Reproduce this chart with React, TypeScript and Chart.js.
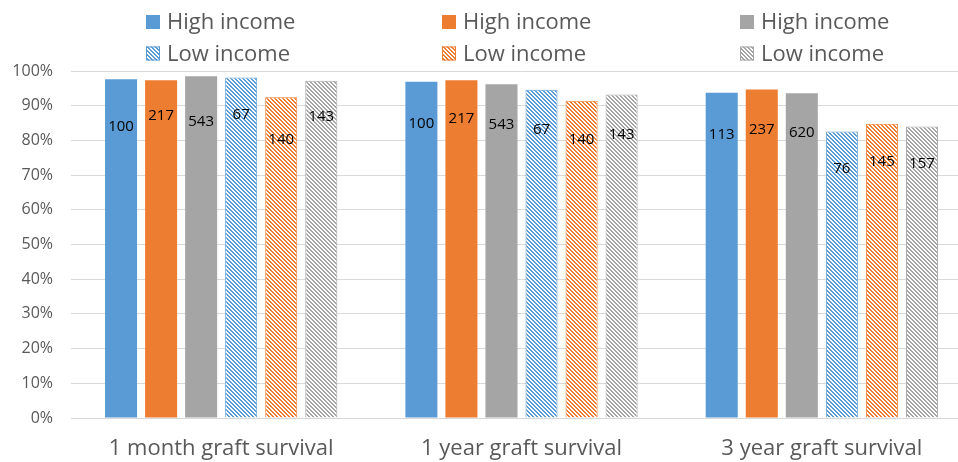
import React, { useEffect, useRef } from "react";
import { Chart, registerables } from "chart.js";

Chart.register(...registerables);

const categories = ["1 month graft survival", "1 year graft survival", "3 year graft survival"];
const legendLabels = ["High income", "High income", "High income", "Low income", "Low income", "Low income"];

const highBlue = [97.6, 96.9, 93.7];
const highOrange = [97.3, 97.3, 94.7];
const highGray = [98.5, 96.2, 93.6];
const lowBlue = [98.1, 94.6, 82.6];
const lowOrange = [92.4, 91.4, 84.8];
const lowGray = [97.2, 93.2, 84.0];

const highBlueN = [100, 100, 113];
const highOrangeN = [217, 217, 237];
const highGrayN = [543, 543, 620];
const lowBlueN = [67, 67, 76];
const lowOrangeN = [140, 140, 145];
const lowGrayN = [143, 143, 157];

// vertical position (in % units) where each count label sits
const highBlueLabelY = [84.0, 84.9, 81.6];
const highOrangeLabelY = [87.0, 86.3, 83.0];
const highGrayLabelY = [85.4, 84.6, 82.2];
const lowBlueLabelY = [87.3, 83.0, 71.8];
const lowOrangeLabelY = [80.1, 80.3, 73.9];
const lowGrayLabelY = [86.8, 81.6, 73.2];

const yTicks = [0, 10, 20, 30, 40, 50, 60, 70, 80, 90, 100];

const BLUE = "#5B9BD5";
const ORANGE = "#ED7D31";
const GRAY = "#A5A5A5";
const FONT = "'Open Sans', 'Noto Sans', sans-serif";

function hexToRgb(hex: string) {
  const v = parseInt(hex.slice(1), 16);
  return [(v >> 16) & 255, (v >> 8) & 255, v & 255];
}

function makePattern(color: string): CanvasPattern | string {
  const c = document.createElement("canvas");
  c.width = 8;
  c.height = 8;
  const ctx = c.getContext("2d");
  if (!ctx) return color;
  const img = ctx.createImageData(8, 8);
  const [r, g, b] = hexToRgb(color);
  for (let y = 0; y < 8; y++) {
    for (let x = 0; x < 8; x++) {
      const on = (((x - y) % 4) + 4) % 4 < 2;
      const i = (y * 8 + x) * 4;
      img.data[i] = on ? r : 255;
      img.data[i + 1] = on ? g : 255;
      img.data[i + 2] = on ? b : 255;
      img.data[i + 3] = 255;
    }
  }
  ctx.putImageData(img, 0, 0);
  const p = ctx.createPattern(c, "repeat");
  return p || color;
}

export default function App() {
  const ref = useRef<HTMLCanvasElement | null>(null);

  useEffect(() => {
    if (!ref.current) return;
    const pBlue = makePattern(BLUE);
    const pOrange = makePattern(ORANGE);
    const pGray = makePattern(GRAY);

    const series = [
      { data: highBlue, n: highBlueN, ly: highBlueLabelY, bg: BLUE, border: BLUE, bw: 0 },
      { data: highOrange, n: highOrangeN, ly: highOrangeLabelY, bg: ORANGE, border: ORANGE, bw: 0 },
      { data: highGray, n: highGrayN, ly: highGrayLabelY, bg: GRAY, border: GRAY, bw: 0 },
      { data: lowBlue, n: lowBlueN, ly: lowBlueLabelY, bg: pBlue, border: BLUE, bw: 1 },
      { data: lowOrange, n: lowOrangeN, ly: lowOrangeLabelY, bg: pOrange, border: ORANGE, bw: 1 },
      { data: lowGray, n: lowGrayN, ly: lowGrayLabelY, bg: pGray, border: GRAY, bw: 1 },
    ];

    const countLabels = {
      id: "countLabels",
      afterDatasetsDraw(chart: any) {
        const ctx = chart.ctx;
        const ys = chart.scales.y;
        ctx.save();
        ctx.font = `15px ${FONT}`;
        ctx.fillStyle = "#000000";
        ctx.textAlign = "center";
        ctx.textBaseline = "middle";
        series.forEach((s, di) => {
          const meta = chart.getDatasetMeta(di);
          meta.data.forEach((el: any, i: number) => {
            ctx.fillText(String(s.n[i]), el.x, ys.getPixelForValue(s.ly[i]));
          });
        });
        ctx.restore();
      },
    };

    const gridLegend = {
      id: "gridLegend",
      afterDraw(chart: any) {
        const ctx = chart.ctx;
        const colX = [146, 442, 740];
        const rowY = [22, 53.5];
        ctx.save();
        ctx.font = `22px ${FONT}`;
        ctx.textAlign = "left";
        ctx.textBaseline = "middle";
        series.forEach((s, i) => {
          const col = i % 3;
          const row = Math.floor(i / 3);
          const x = colX[col];
          const y = rowY[row];
          ctx.fillStyle = s.bg as any;
          ctx.fillRect(x, y - 7, 14, 14);
          if (s.bw) {
            ctx.strokeStyle = s.border;
            ctx.lineWidth = 1;
            ctx.strokeRect(x + 0.5, y - 6.5, 13, 13);
          }
          ctx.fillStyle = "#595959";
          ctx.fillText(legendLabels[i], x + 21, y + 1);
        });
        ctx.restore();
      },
    };

    const chart = new Chart(ref.current, {
      type: "bar",
      data: {
        labels: categories,
        datasets: series.map((s, i) => ({
          label: legendLabels[i],
          data: s.data,
          backgroundColor: s.bg as any,
          borderColor: s.border,
          borderWidth: s.bw,
          categoryPercentage: 0.8,
          barPercentage: 0.8,
        })),
      },
      options: {
        animation: false,
        responsive: false,
        maintainAspectRatio: false,
        layout: { padding: { top: 71, right: 3, left: 0, bottom: 0 } },
        plugins: {
          legend: { display: false },
          tooltip: { enabled: false },
          title: { display: false },
        },
        scales: {
          x: {
            grid: { display: false, drawTicks: false },
            border: { display: false },
            ticks: {
              padding: 18,
              color: "#595959",
              font: { family: FONT, size: 22 },
              maxRotation: 0,
            },
            afterFit(scale: any) {
              scale.height = 44;
            },
          },
          y: {
            min: 0,
            max: 100,
            afterBuildTicks(scale: any) {
              scale.ticks = yTicks.map((v) => ({ value: v }));
            },
            grid: { color: "#D9D9D9", lineWidth: 1, drawTicks: false },
            border: { display: false },
            ticks: {
              padding: 18,
              color: "#595959",
              font: { family: FONT, size: 16 },
              callback: (v: any) => `${v}%`,
            },
            afterFit(scale: any) {
              scale.width = 71;
            },
          },
        },
      },
      plugins: [countLabels, gridLegend],
    });
    return () => chart.destroy();
  }, []);

  return (
    <div style={{ position: "fixed", left: 0, top: 0, width: 975, height: 462, background: "#fff" }}>
      <canvas ref={ref} width={975} height={462} style={{ width: 975, height: 462, display: "block" }} />
    </div>
  );
}
